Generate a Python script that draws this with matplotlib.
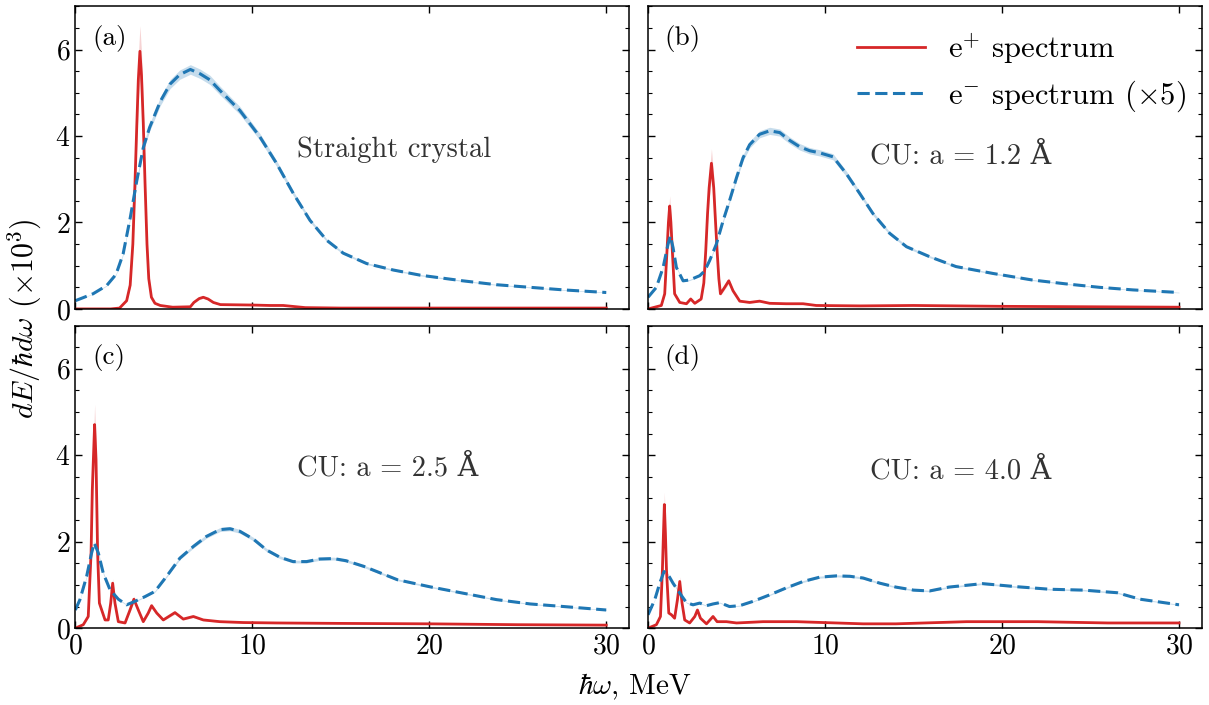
import numpy as np
import matplotlib
matplotlib.use('Agg')
import matplotlib.pyplot as plt

plt.rcParams['font.family'] = ['cmr10', 'DejaVu Serif']
plt.rcParams['mathtext.fontset'] = 'cm'
plt.rcParams['axes.formatter.use_mathtext'] = True
plt.rcParams['font.size'] = 20

# photon energy grids (MeV) and spectra dE/hbar dw (x10^3)
# (a) straight crystal
A_POS_X = [0, 2.0, 2.5, 2.9, 3.1, 3.25, 3.37, 3.47, 3.56, 3.65, 3.74, 3.84, 3.94, 4.05, 4.15, 4.3, 4.5, 4.8,
           5.5, 6.5, 6.7, 7.0, 7.23, 7.5, 7.8, 8.2, 10.0, 11.0, 11.75, 12.5, 13.0, 15.0, 20.0, 25.0, 30.0]
A_POS_Y = [0, 0.0, 0.02, 0.19, 0.55, 1.5, 2.9, 4.2, 5.3, 5.96, 5.4, 4.3, 2.9, 1.5, 0.7, 0.27, 0.13, 0.08,
           0.04, 0.05, 0.15, 0.24, 0.27, 0.23, 0.15, 0.1, 0.09, 0.08, 0.08, 0.05, 0.03, 0.02, 0.02, 0.02, 0.02]
A_ELE_X = [0, 1.0, 1.77, 2.3, 2.7, 3.1, 3.47, 3.84, 4.2, 4.8, 5.35, 5.9, 6.5, 7.05, 7.6, 8.18, 9.3,
           10.43, 11.38, 12.32, 13.26, 14.2, 15.14, 16.46, 17.97, 19.5, 21.9, 23.8, 25.7, 27.6, 30.0]
A_ELE_Y = [0.19, 0.35, 0.54, 0.8, 1.27, 2.1, 2.96, 3.73, 4.2, 4.8, 5.2, 5.42, 5.54, 5.44, 5.3, 5.05, 4.59,
           3.98, 3.36, 2.67, 2.05, 1.59, 1.29, 1.05, 0.9, 0.78, 0.65, 0.56, 0.50, 0.44, 0.38]

# (b) CU, a = 1.2 A
B_POS_X = [0, 0.75, 0.94, 1.07, 1.15, 1.22, 1.29, 1.37, 1.5, 1.79, 2.17, 2.41, 2.64, 3.0, 3.15, 3.26, 3.36,
           3.45, 3.58, 3.71, 3.8, 3.9, 4.0, 4.09, 4.33, 4.56, 4.8, 5.18, 5.74, 6.3, 6.87, 7.8, 8.76, 9.5,
           12.0, 15.0, 20.0, 25.0, 30.0]
B_POS_Y = [0, 0.08, 0.35, 1.35, 2.0, 2.38, 2.0, 1.35, 0.35, 0.15, 0.12, 0.23, 0.13, 0.23, 0.6, 1.35, 2.2,
           2.8, 3.37, 2.8, 2.1, 1.35, 0.7, 0.35, 0.5, 0.65, 0.42, 0.18, 0.15, 0.18, 0.13, 0.12, 0.12, 0.08,
           0.07, 0.08, 0.06, 0.05, 0.04]
B_ELE_X = [0, 0.47, 0.85, 1.13, 1.26, 1.41, 1.6, 1.98, 2.35, 2.92, 3.2, 3.48, 3.86, 4.24, 4.6, 5.0, 5.37,
           5.74, 6.3, 6.87, 7.44, 8.0, 8.57, 9.13, 9.7, 10.45, 11.2, 11.96, 12.7, 13.65, 14.6, 15.9, 17.4,
           19.5, 21.7, 23.6, 25.5, 27.4, 30.0]
B_ELE_Y = [0.27, 0.5, 0.96, 1.5, 1.69, 1.42, 0.96, 0.65, 0.67, 0.77, 0.88, 1.12, 1.5, 2.04, 2.5, 3.04, 3.5,
           3.8, 4.04, 4.12, 4.08, 3.9, 3.75, 3.66, 3.61, 3.52, 3.13, 2.67, 2.21, 1.75, 1.44, 1.21, 0.98,
           0.82, 0.67, 0.58, 0.50, 0.44, 0.38]

# (c) CU, a = 2.5 A
C_POS_X = [0, 0.45, 0.73, 0.89, 0.96, 1.02, 1.09, 1.17, 1.26, 1.36, 1.49, 1.68, 1.86, 2.0, 2.11, 2.24,
           2.43, 2.81, 3.09, 3.31, 3.56, 3.84, 4.12, 4.31, 4.6, 4.97, 5.63, 6.1, 6.67, 7.23, 8.17, 9.5,
           11.4, 15.0, 20.0, 25.0, 30.0]
C_POS_Y = [0, 0.08, 0.27, 1.74, 3.2, 3.9, 4.71, 3.9, 1.74, 0.58, 0.42, 0.19, 0.19, 0.58, 1.04, 0.58,
           0.15, 0.12, 0.42, 0.67, 0.42, 0.15, 0.35, 0.52, 0.35, 0.19, 0.36, 0.21, 0.27, 0.19, 0.15, 0.13,
           0.12, 0.11, 0.1, 0.08, 0.07]
C_ELE_X = [0, 0.26, 0.64, 0.92, 1.07, 1.3, 1.58, 1.96, 2.43, 2.9, 3.37, 3.94, 4.5, 5.16, 5.91, 6.67, 7.4,
           8.17, 8.74, 9.3, 10.06, 10.8, 11.56, 12.3, 13.07, 13.8, 14.6, 15.3, 16.3, 18.2, 20.0, 21.9,
           23.8, 25.7, 27.6, 30.0]
C_ELE_Y = [0.42, 0.66, 1.2, 1.74, 1.97, 1.74, 1.27, 0.89, 0.67, 0.54, 0.62, 0.73, 0.85, 1.2, 1.62, 1.89,
           2.12, 2.28, 2.3, 2.24, 2.06, 1.81, 1.64, 1.54, 1.54, 1.6, 1.61, 1.56, 1.43, 1.12, 0.96, 0.81,
           0.66, 0.56, 0.50, 0.42]

# (d) CU, a = 4.0 A
D_POS_X = [0, 0.47, 0.7, 0.81, 0.87, 0.92, 0.98, 1.04, 1.17, 1.32, 1.5, 1.66, 1.79, 1.92, 2.07, 2.35,
           2.64, 2.79, 2.96, 3.3, 3.67, 3.9, 4.43, 5.0, 6.5, 8.38, 9.9, 12.15, 14.0, 18.0, 22.0, 26.0, 30.0]
D_POS_Y = [0, 0.08, 0.27, 1.35, 2.2, 2.86, 2.2, 1.35, 0.35, 0.31, 0.23, 0.66, 1.08, 0.58, 0.19, 0.12,
           0.27, 0.42, 0.23, 0.1, 0.27, 0.15, 0.15, 0.12, 0.15, 0.15, 0.13, 0.1, 0.1, 0.15, 0.15, 0.12, 0.12]
D_ELE_X = [0, 0.38, 0.66, 0.9, 1.13, 1.41, 1.79, 2.17, 2.54, 2.92, 3.3, 3.67, 4.05, 4.6, 5.18, 5.93,
           6.87, 7.8, 8.76, 9.7, 10.64, 11.4, 12.15, 13.1, 14.0, 15.0, 15.9, 17.0, 18.9, 20.8, 22.7, 24.6,
           26.5, 27.8, 30.0]
D_ELE_Y = [0.31, 0.66, 1.04, 1.31, 1.24, 1.04, 0.81, 0.59, 0.54, 0.58, 0.52, 0.56, 0.59, 0.5, 0.52, 0.62,
           0.77, 0.93, 1.08, 1.18, 1.21, 1.2, 1.16, 1.04, 0.95, 0.88, 0.86, 0.95, 1.03, 0.96, 0.90, 0.88,
           0.82, 0.67, 0.54]

PANEL_TAGS = ['(a)', '(b)', '(c)', '(d)']
PANEL_NOTES = ['Straight crystal', 'CU: a = 1.2 Å', 'CU: a = 2.5 Å', 'CU: a = 4.0 Å']
NOTE_Y = [0.525, 0.505, 0.53, 0.52]
PANELS = [(A_POS_X, A_POS_Y, A_ELE_X, A_ELE_Y),
          (B_POS_X, B_POS_Y, B_ELE_X, B_ELE_Y),
          (C_POS_X, C_POS_Y, C_ELE_X, C_ELE_Y),
          (D_POS_X, D_POS_Y, D_ELE_X, D_ELE_Y)]

# relative statistical uncertainty used for the shaded bands
POS_REL_ERR = 0.10
ELE_REL_ERR = 0.02

RED = '#d62728'
BLUE = '#1f77b4'

fig, axes = plt.subplots(2, 2, figsize=(12.09, 7.05), dpi=100, sharex=True, sharey=True)
fig.subplots_adjust(left=0.0623, right=0.9942, top=0.991, bottom=0.109, wspace=0.034, hspace=0.055)

for i, ax in enumerate(axes.flat):
    px, py, ex, ey = [np.asarray(v, dtype=float) for v in PANELS[i]]
    ax.fill_between(px, py * (1 - POS_REL_ERR), py * (1 + POS_REL_ERR), color=RED, alpha=0.2, lw=0)
    ax.fill_between(ex, ey * (1 - ELE_REL_ERR), ey * (1 + ELE_REL_ERR), color=BLUE, alpha=0.25, lw=0)
    ax.plot(px, py, color=RED, lw=2.0, label=r'$\mathrm{e}^{+}$ spectrum')
    ax.plot(ex, ey, color=BLUE, lw=2.2, ls=(0, (4.0, 1.8)), label=r'$\mathrm{e}^{-}$ spectrum $(\times 5)$')

    ax.set_xlim(0, 31.3)
    ax.set_ylim(0, 7)
    ax.set_xticks([0, 10, 20, 30])
    ax.set_yticks([0, 2, 4, 6])
    ax.set_yticks(np.arange(0, 7.01, 0.5), minor=True)
    ax.tick_params(which='both', direction='in', top=True, right=True, labelsize=20)
    ax.tick_params(which='major', length=5, width=1)
    ax.tick_params(which='minor', length=3, width=0.8)
    for s in ax.spines.values():
        s.set_linewidth(1.1)

    ax.text(0.03, 0.895, PANEL_TAGS[i], transform=ax.transAxes, ha='left', va='center', fontsize=19.5)
    ax.text(0.40, NOTE_Y[i], PANEL_NOTES[i], transform=ax.transAxes, ha='left', va='center',
            fontsize=20.5, color='#333333')

axes[0, 1].legend(loc='upper right', frameon=False, fontsize=22, handlelength=2.2,
                  handletextpad=0.75, labelspacing=0.4, bbox_to_anchor=(1.02, 1.01))

fig.text(0.021, 0.548, r'$dE/\hbar d\omega$ $(\times 10^3)$', rotation=90, ha='center', va='center',
         fontsize=21.5)
fig.text(0.525, 0.026, r'$\hbar\omega$, MeV', ha='center', va='center', fontsize=21)

fig.savefig('out.png', dpi=100)
